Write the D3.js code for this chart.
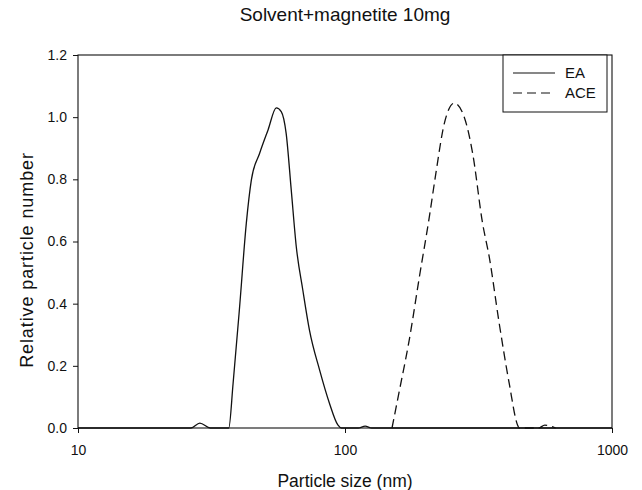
<!DOCTYPE html>
<html><head><meta charset="utf-8">
<script src="https://cdn.jsdelivr.net/npm/d3@7"></script>
<style>body{margin:0;background:#fff}svg{display:block}text{font-family:"Liberation Sans",Arial,sans-serif;fill:#111}</style>
</head><body><svg id="c" width="642" height="490"></svg>
<script>
const title = "Solvent+magnetite 10mg";
const xLabel = "Particle size (nm)";
const yLabel = "Relative particle number";
const xTicks = [10, 100, 1000];
const yTicks = [0, 0.2, 0.4, 0.6, 0.8, 1.0, 1.2];
const seriesNames = ["EA", "ACE"];
// EA: particle size (nm) and relative number
const eaSize = [10, 26.5, 28.6, 31.3, 36.7, 38.1, 40.3, 42.7, 44.6, 47.9, 51.5, 55.3, 57.7, 60.2, 62.9, 65.7, 69.5, 73.6, 80.3, 87.5, 94, 97, 112, 119, 126, 1000];
const eaVal  = [0, 0, 0.016, 0, 0, 0.144, 0.39, 0.659, 0.798, 0.884, 0.959, 1.03, 1.018, 0.948, 0.766, 0.583, 0.444, 0.315, 0.187, 0.079, 0.01, 0, 0, 0.006, 0, 0];
// ACE
const aceSize = [150, 160, 174, 190, 207, 219, 235.5, 256.6, 279.7, 300.6, 327.5, 346.8, 378, 412, 442.7, 449, 530, 560, 615];
const aceVal  = [0, 0.122, 0.283, 0.487, 0.68, 0.82, 0.98, 1.045, 1.0, 0.884, 0.659, 0.551, 0.337, 0.144, 0.01, 0, 0, 0.009, 0];

const svg = d3.select("#c");
const L = 78, R = 612, T = 55, B = 428;
const x = d3.scaleLog().domain([10, 1000]).range([L, R]);
const y = d3.scaleLinear().domain([0, 1.2]).range([B, T]);

svg.append("text").attr("x", 345).attr("y", 21).attr("text-anchor", "middle").style("font-size", "19px").text(title);

// frame
svg.append("rect").attr("x", L).attr("y", T).attr("width", R - L).attr("height", B - T)
  .attr("fill", "none").attr("stroke", "#111").attr("stroke-width", 1.1);

const gx = svg.append("g").attr("transform", `translate(0,${B})`)
  .call(d3.axisBottom(x).tickValues(xTicks).tickFormat(d3.format("d")).tickSize(5).tickPadding(12));
const gy = svg.append("g").attr("transform", `translate(${L},0)`)
  .call(d3.axisLeft(y).tickValues(yTicks).tickFormat(d3.format(".1f")).tickSize(5).tickPadding(6));
[gx, gy].forEach(g => {
  g.select(".domain").remove();
  g.selectAll("line").attr("stroke", "#111");
  g.selectAll("text").style("font-size", "14px").style("font-family", '"Liberation Sans",Arial,sans-serif').attr("fill", "#111");
});

svg.append("text").attr("x", 345).attr("y", 487).attr("text-anchor", "middle").style("font-size", "17.5px").text(xLabel);
svg.append("text").attr("transform", "translate(33,260) rotate(-90)").attr("text-anchor", "middle")
  .style("font-size", "18px").style("letter-spacing", "0.9px").text(yLabel);

const line = d3.line().x(d => x(d[0])).y(d => y(d[1])).curve(d3.curveMonotoneX);
svg.append("path").datum(eaSize.map((s, i) => [s, eaVal[i]])).attr("d", line)
  .attr("fill", "none").attr("stroke", "#111").attr("stroke-width", 1.3);
svg.append("path").datum(aceSize.map((s, i) => [s, aceVal[i]])).attr("d", line)
  .attr("fill", "none").attr("stroke", "#111").attr("stroke-width", 1.3).attr("stroke-dasharray", "9,5");

// legend
const lg = svg.append("g");
lg.append("rect").attr("x", 503).attr("y", 55).attr("width", 104).attr("height", 57)
  .attr("fill", "#fff").attr("stroke", "#111").attr("stroke-width", 1);
seriesNames.forEach((n, i) => {
  const yy = 73 + i * 20;
  lg.append("line").attr("x1", 513).attr("x2", 555).attr("y1", yy).attr("y2", yy)
    .attr("stroke", "#111").attr("stroke-width", 1.2).attr("stroke-dasharray", i ? "9,5" : null);
  lg.append("text").attr("x", 565).attr("y", yy + 4.5).style("font-size", "15px").text(n);
});
</script></body></html>
